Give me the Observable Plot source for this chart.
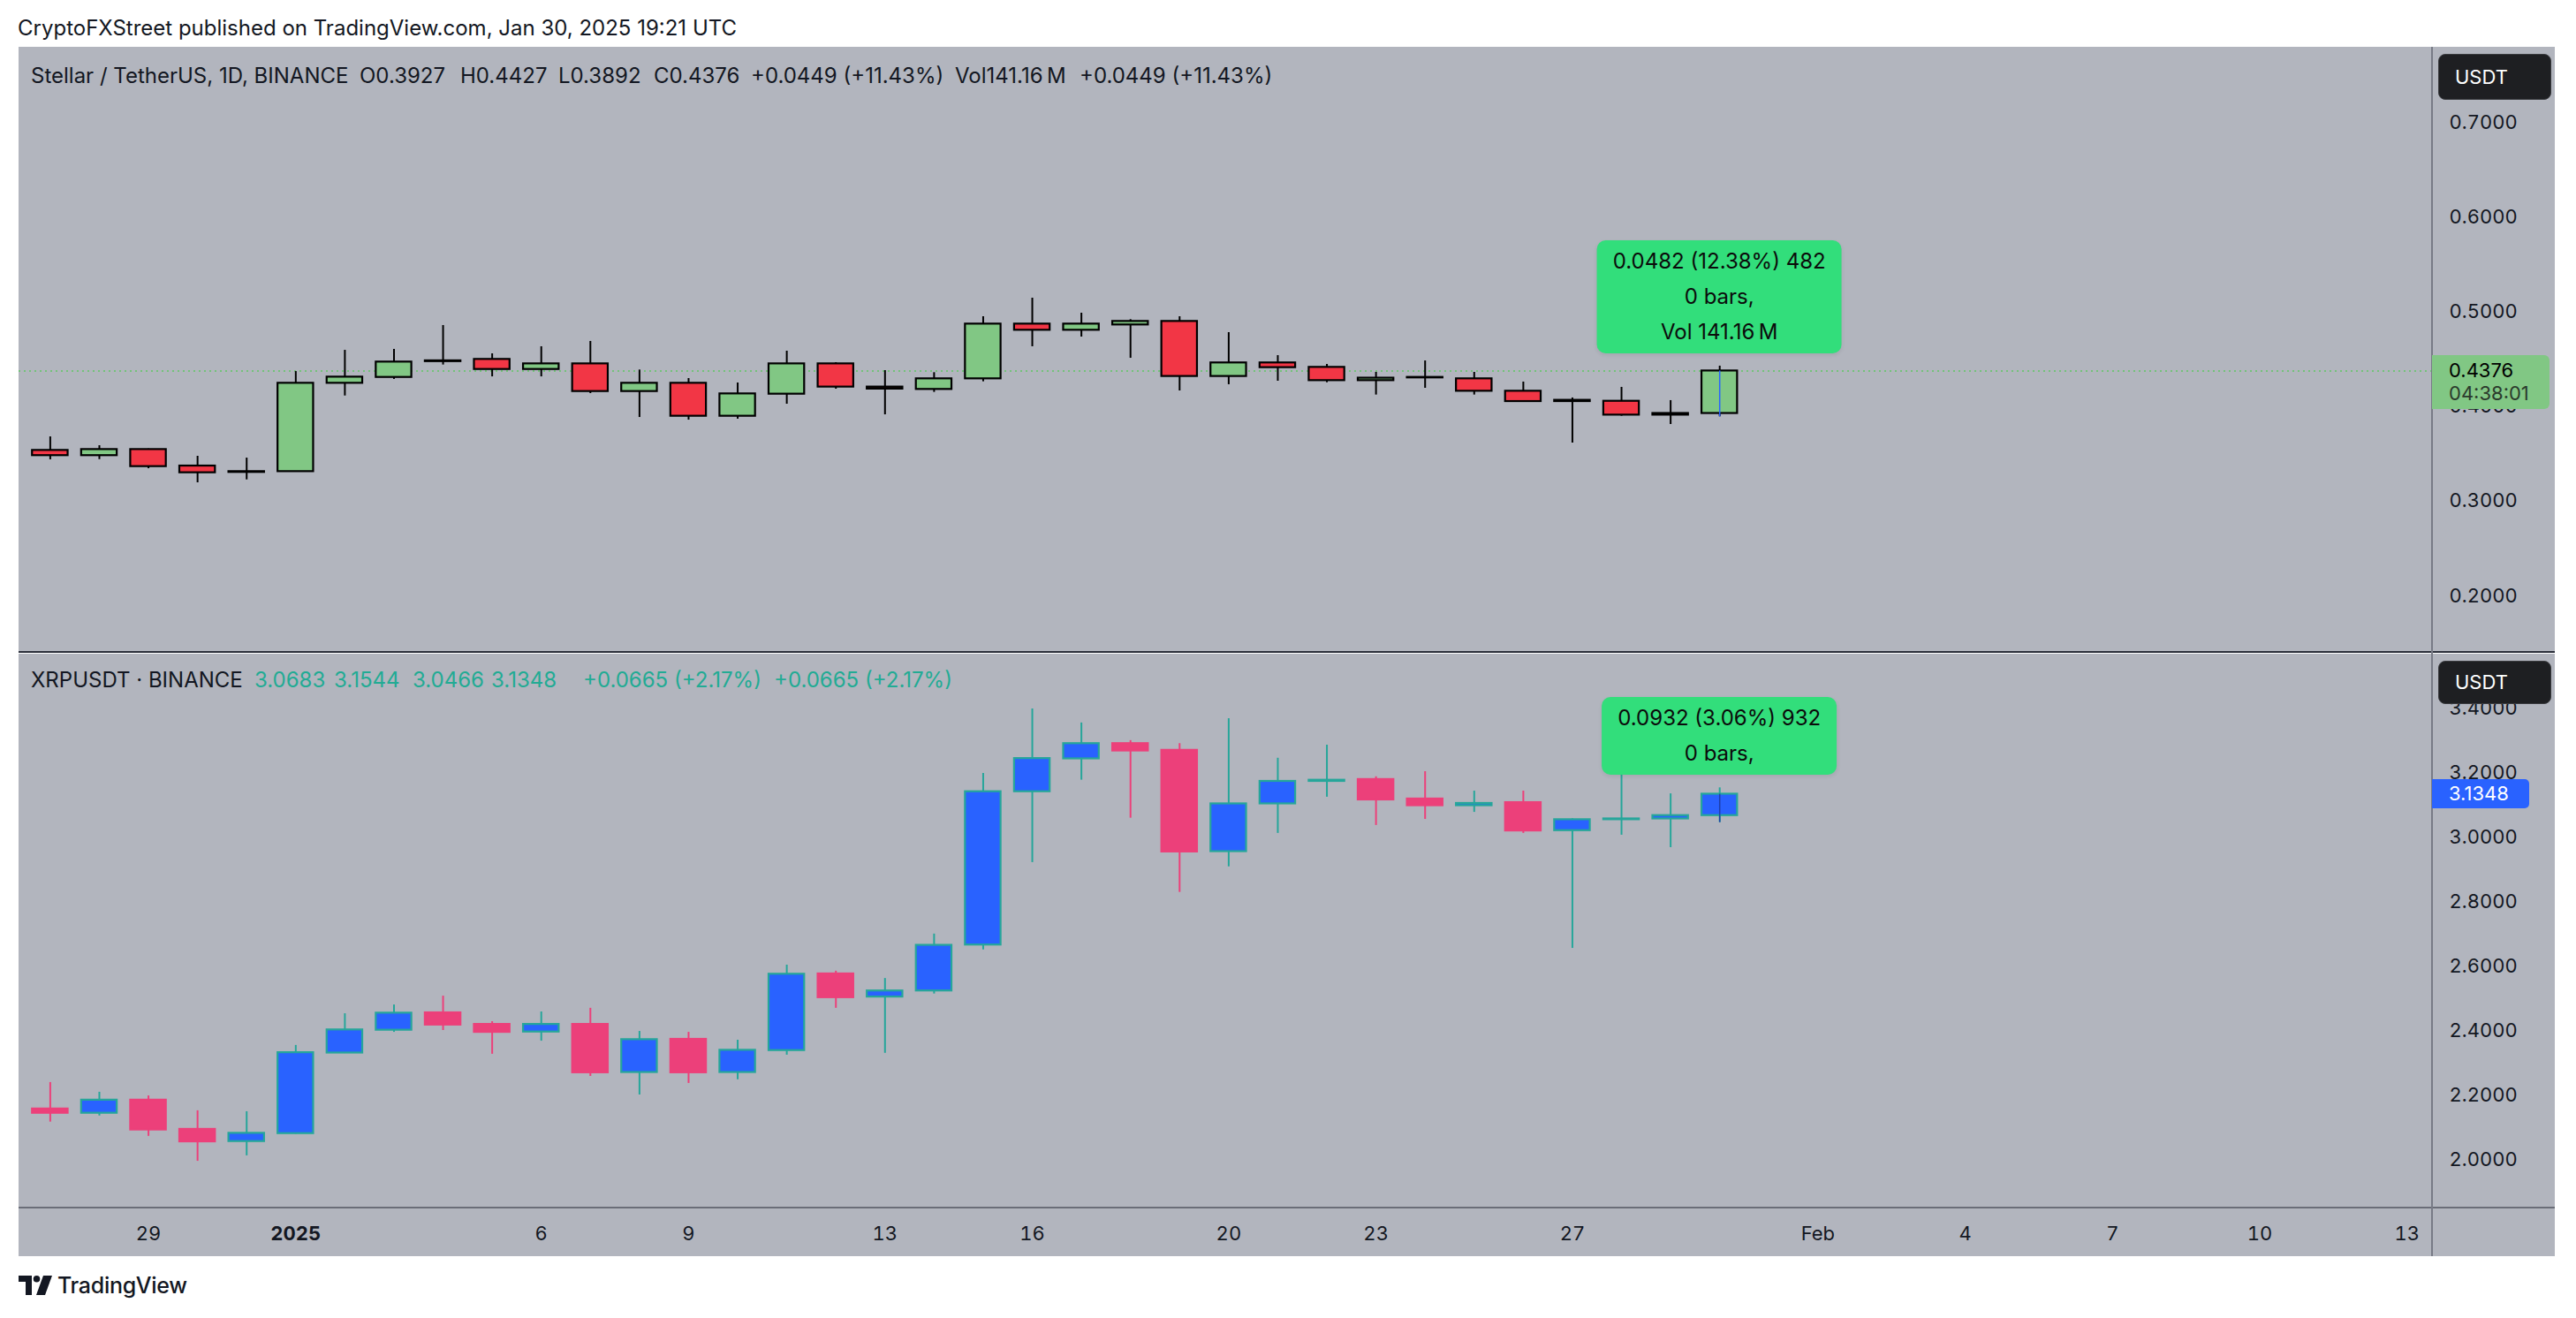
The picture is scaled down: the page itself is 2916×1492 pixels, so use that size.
<!DOCTYPE html>
<html>
<head>
<meta charset="utf-8">
<script src="https://cdn.jsdelivr.net/npm/d3@7"></script>
<script src="https://cdn.jsdelivr.net/npm/@observablehq/plot@0.6"></script>
<style>
  html, body { margin: 0; padding: 0; background: #ffffff; }
  body { font-family: Inter, "Noto Sans", sans-serif; }
  #root { position: relative; width: 2916px; height: 1492px; overflow: hidden; background: #ffffff; }
  .abs { position: absolute; white-space: nowrap; }
  .legend { position: absolute; height: 30px; line-height: 30px; font-size: 24px; color: #131722; white-space: nowrap; }
  .usdt { position: absolute; left: 2760px; width: 128px; background: #1e1f22; border: 1px solid #3a3b3f; box-sizing: border-box;
          border-radius: 8px; color: #ffffff; font-size: 22px; padding-left: 18px; }
  .measure { position: absolute; background: #32de7b; border-radius: 10px; color: #0b0b0b; font-size: 24px; text-align: center;
             padding: 4px 18px; box-shadow: 0 2px 4px rgba(0,0,0,0.08); transform: translate(-50%, -100%); }
  .measure div { height: 40px; line-height: 40px; }
</style>
</head>
<body>
<div id="root"></div>
<script>
// ---------------- DATA ----------------
const dates = [
  "2024-12-27","2024-12-28","2024-12-29","2024-12-30","2024-12-31",
  "2025-01-01","2025-01-02","2025-01-03","2025-01-04","2025-01-05",
  "2025-01-06","2025-01-07","2025-01-08","2025-01-09","2025-01-10",
  "2025-01-11","2025-01-12","2025-01-13","2025-01-14","2025-01-15",
  "2025-01-16","2025-01-17","2025-01-18","2025-01-19","2025-01-20",
  "2025-01-21","2025-01-22","2025-01-23","2025-01-24","2025-01-25",
  "2025-01-26","2025-01-27","2025-01-28","2025-01-29","2025-01-30"
];

// Stellar / TetherUS (XLMUSDT), daily
const xlmOpen  = [0.3537,0.3482,0.3546,0.3372,0.3305,0.3313,0.4246,0.4308,0.4475,0.4498,0.4392,0.4451,0.4159,0.4246,0.3898,0.4131,0.4451,0.4206,0.4181,0.4293,0.4871,0.4806,0.4862,0.4899,0.4318,0.4461,0.4414,0.4274,0.4303,0.4293,0.4162,0.4053,0.4056,0.3910,0.3927];
const xlmHigh  = [0.3680,0.3587,0.3552,0.3475,0.3456,0.4370,0.4594,0.4604,0.4856,0.4557,0.4632,0.4688,0.4386,0.4296,0.4249,0.4585,0.4464,0.4380,0.4358,0.4949,0.5145,0.4986,0.4918,0.4949,0.4781,0.4538,0.4445,0.4361,0.4482,0.4361,0.4259,0.4091,0.4203,0.4063,0.4427];
const xlmLow   = [0.3438,0.3440,0.3344,0.3195,0.3226,0.3310,0.4112,0.4287,0.4439,0.4314,0.4314,0.4137,0.3885,0.3857,0.3867,0.4025,0.4184,0.3913,0.4150,0.4262,0.4632,0.4734,0.4510,0.4165,0.4231,0.4268,0.4252,0.4122,0.4193,0.4122,0.4050,0.3615,0.3898,0.3811,0.3892];
const xlmClose = [0.3482,0.3546,0.3366,0.3301,0.3313,0.4246,0.4311,0.4470,0.4483,0.4392,0.4451,0.4159,0.4246,0.3898,0.4134,0.4451,0.4206,0.4185,0.4293,0.4871,0.4806,0.4871,0.4899,0.4318,0.4461,0.4411,0.4274,0.4300,0.4308,0.4162,0.4053,0.4066,0.3910,0.3927,0.4376];

// XRPUSDT, daily
const xrpOpen  = [2.1579,2.1447,2.1853,2.0947,2.0569,2.0815,2.3316,2.4024,2.4562,2.4203,2.3968,2.4203,2.2712,2.3740,2.2712,2.3392,2.5770,2.5053,2.5242,2.6667,3.1424,3.2444,3.2916,3.2708,2.9565,3.1047,3.1745,3.1802,3.1198,3.0990,3.1085,3.0216,3.0556,3.0580,3.0683];
const xrpHigh  = [2.2400,2.2098,2.1985,2.1523,2.1494,2.3552,2.4534,2.4807,2.5081,2.4288,2.4590,2.4704,2.3986,2.3958,2.3713,2.6044,2.5855,2.5629,2.7007,3.1991,3.3992,3.3558,3.3010,3.2916,3.3690,3.2463,3.2869,3.1887,3.2047,3.1443,3.1443,3.0584,3.2132,3.1358,3.1544];
const xrpLow   = [2.1173,2.1362,2.0730,1.9956,2.0126,2.0800,2.3300,2.3958,2.4015,2.3278,2.3684,2.2589,2.2014,2.2372,2.2486,2.3250,2.4704,2.3307,2.5147,2.6516,2.9225,3.1783,3.0603,2.8300,2.9093,3.0131,3.1254,3.0377,3.0565,3.0783,3.0131,2.6563,3.0075,2.9688,3.0466];
const xrpClose = [2.1447,2.1853,2.0928,2.0560,2.0824,2.3326,2.4033,2.4553,2.4184,2.3958,2.4203,2.2703,2.3731,2.2703,2.3401,2.5761,2.5034,2.5242,2.6658,3.1424,3.2453,3.2916,3.2689,2.9555,3.1047,3.1745,3.1780,3.1170,3.0990,3.1060,3.0207,3.0556,3.0580,3.0683,3.1348];

// Axis ticks
const xlmTicks = [0.2, 0.3, 0.4, 0.5, 0.6, 0.7];
const xrpTicks = [2.0, 2.2, 2.4, 2.6, 2.8, 3.0, 3.2, 3.4];
const dayTicks = ["2024-12-29","2025-01-06","2025-01-09","2025-01-13","2025-01-16","2025-01-20","2025-01-23","2025-01-27","2025-02-01","2025-02-04","2025-02-07","2025-02-10","2025-02-13"];
const yearTicks = ["2025-01-01"];

// Texts
const headerText = "CryptoFXStreet published on TradingView.com, Jan 30, 2025 19:21 UTC";
const xlmLegend = [
  ["Stellar / TetherUS, 1D, BINANCE", 35], ["O0.3927", 407], ["H0.4427", 521], ["L0.3892", 632],
  ["C0.4376", 740], ["+0.0449 (+11.43%)", 850], ["Vol141.16\u2009M", 1081], ["+0.0449 (+11.43%)", 1222]
];
const xrpLegendName = ["XRPUSDT \u00b7 BINANCE", 35];
const xrpLegendValues = [
  ["3.0683", 288], ["3.1544", 378], ["3.0466", 467], ["3.1348", 556],
  ["+0.0665 (+2.17%)", 660], ["+0.0665 (+2.17%)", 876]
];
const xlmMeasure = ["0.0482 (12.38%) 482", "0 bars,", "Vol 141.16\u2009M"];
const xrpMeasure = ["0.0932 (3.06%) 932", "0 bars,"];
const xlmCountdown = "04:38:01";

// ---------------- BUILD ----------------
const xlm = dates.map((d, i) => ({date: new Date(d), open: xlmOpen[i], high: xlmHigh[i], low: xlmLow[i], close: xlmClose[i]}));
const xrp = dates.map((d, i) => ({date: new Date(d), open: xrpOpen[i], high: xrpHigh[i], low: xrpLow[i], close: xrpClose[i]}));

const root = document.getElementById("root");
const W = 2871, LEFT = 21, TOP1 = 53, TOP2 = 740;
const xDomain = [new Date(Date.UTC(2024, 11, 26, 8, 43)), new Date(Date.UTC(2025, 1, 13, 12, 22))];
const halfBody = 8.7 * 3600 * 1000;
const bx1 = d => new Date(+d.date - halfBody);
const bx2 = d => new Date(+d.date + halfBody);
const up = d => d.close >= d.open;

const p1 = Plot.plot({
  width: W, height: 685,
  marginTop: 0, marginBottom: 0, marginLeft: 0, marginRight: 139,
  style: {background: "#b2b5be", fontFamily: "Inter, 'Noto Sans', sans-serif", overflow: "visible"},
  x: {type: "utc", domain: xDomain, axis: null},
  y: {domain: [0.1404, 0.7794]},
  marks: [
    Plot.axisY(xlmTicks, {anchor: "right", tickSize: 0, tickPadding: 19, tickFormat: d => d.toFixed(4), fontSize: 22, color: "#131722", label: null}),
    Plot.ruleY([xlmClose[xlmClose.length - 1]], {stroke: "#74c27a", strokeWidth: 2, strokeDasharray: "2,4"}),
    Plot.ruleX(xlm, {x: "date", y1: "low", y2: "high", stroke: "#000000", strokeWidth: 2}),
    Plot.rect(xlm, {x1: bx1, x2: bx2, y1: "open", y2: "close", fill: d => up(d) ? "#81c784" : "#f23645", stroke: "#000000", strokeWidth: 2.2}),
    Plot.ruleX(xlm.slice(-1), {x: "date", y1: "low", y2: "close", stroke: "#2962ff", strokeWidth: 1.5})
  ]
});
p1.style.position = "absolute"; p1.style.left = LEFT + "px"; p1.style.top = TOP1 + "px";
root.appendChild(p1);

const dayFmt = d => d.getUTCDate() === 1 ? d3.utcFormat("%b")(d) : d3.utcFormat("%-d")(d);
const p2 = Plot.plot({
  width: W, height: 682,
  marginTop: 0, marginBottom: 55, marginLeft: 0, marginRight: 139,
  style: {background: "#b2b5be", fontFamily: "Inter, 'Noto Sans', sans-serif", overflow: "visible"},
  x: {type: "utc", domain: xDomain},
  y: {domain: [1.8505, 3.5692]},
  marks: [
    Plot.axisY(xrpTicks, {anchor: "right", tickSize: 0, tickPadding: 19, tickFormat: d => d.toFixed(4), fontSize: 22, color: "#131722", label: null}),
    Plot.axisX(dayTicks.map(d => new Date(d)), {anchor: "bottom", tickSize: 0, tickPadding: 21, tickFormat: dayFmt, fontSize: 22, color: "#131722", label: null}),
    Plot.axisX(yearTicks.map(d => new Date(d)), {anchor: "bottom", tickSize: 0, tickPadding: 21, tickFormat: d3.utcFormat("%Y"), fontSize: 22, fontWeight: "bold", color: "#131722", label: null}),
    Plot.ruleX(xrp, {x: "date", y1: "low", y2: "high", stroke: d => up(d) ? "#26a69a" : "#ec407a", strokeWidth: 2}),
    Plot.rect(xrp, {x1: bx1, x2: bx2, y1: "open", y2: "close", fill: d => up(d) ? "#2962ff" : "#ec407a", stroke: d => up(d) ? "#26a69a" : "#ec407a", strokeWidth: 2.2}),
    Plot.ruleX(xrp.slice(-1), {x: "date", y1: "low", y2: "close", stroke: "#1d3fa8", strokeWidth: 1.5})
  ]
});
p2.style.position = "absolute"; p2.style.left = LEFT + "px"; p2.style.top = TOP2 + "px";
root.appendChild(p2);

// helpers
function el(tag, cls, css, text) {
  const e = document.createElement(tag);
  if (cls) e.className = cls;
  Object.assign(e.style, css || {});
  if (text != null) e.textContent = text;
  root.appendChild(e);
  return e;
}

// separators
el("div", null, {position: "absolute", left: LEFT + "px", top: "737px", width: W + "px", height: "2px", background: "#2a2e39"});
el("div", null, {position: "absolute", left: LEFT + "px", top: "1366px", width: W + "px", height: "2px", background: "#6a6d78"});
el("div", null, {position: "absolute", left: "2752px", top: TOP1 + "px", width: "2px", height: (1422 - TOP1) + "px", background: "#787b86"});

// header
el("div", "abs", {left: "20px", top: "17px", fontSize: "24px", lineHeight: "30px", color: "#131722"}, headerText);

// legends
xlmLegend.forEach(([t, x]) => el("div", "legend", {left: x + "px", top: "71px"}, t));
el("div", "legend", {left: xrpLegendName[1] + "px", top: "755px"}, xrpLegendName[0]);
xrpLegendValues.forEach(([t, x]) => el("div", "legend", {left: x + "px", top: "755px", color: "#22ab94"}, t));

// currency buttons
el("div", "usdt", {top: "61px", height: "52px", lineHeight: "50px"}, "USDT");
el("div", "usdt", {top: "748px", height: "49px", lineHeight: "47px"}, "USDT");

// last price labels (positioned with plot scales)
const x1s = p1.scale("x"), y1s = p1.scale("y");
const x2s = p2.scale("x"), y2s = p2.scale("y");
const lastX = xlm[xlm.length - 1], lastR = xrp[xrp.length - 1];

const yl1 = TOP1 + y1s.apply(lastX.close);
const lab1 = el("div", "abs", {left: "2753px", top: (yl1 - 17) + "px", width: "133px", height: "61px", background: "#81c784",
  borderRadius: "0 6px 6px 0", fontSize: "22px", color: "#000"});
const l1a = document.createElement("div"); l1a.textContent = lastX.close.toFixed(4);
Object.assign(l1a.style, {position: "absolute", left: "19px", top: "2px", lineHeight: "30px"});
const l1b = document.createElement("div"); l1b.textContent = xlmCountdown;
Object.assign(l1b.style, {position: "absolute", left: "19px", top: "28px", lineHeight: "30px", color: "#2b3a2c"});
lab1.appendChild(l1a); lab1.appendChild(l1b);

const yl2 = TOP2 + y2s.apply(lastR.close);
el("div", "abs", {left: "2753px", top: (yl2 - 16.5) + "px", width: "110px", height: "33px", background: "#2962ff",
  borderRadius: "0 5px 5px 0", fontSize: "22px", color: "#ffffff", lineHeight: "33px", paddingLeft: "19px", boxSizing: "border-box"},
  lastR.close.toFixed(4));

// measurement boxes
function measure(lines, cx, bottom) {
  const b = el("div", "measure", {left: cx + "px", top: bottom + "px"});
  lines.forEach(t => { const d = document.createElement("div"); d.textContent = t; b.appendChild(d); });
}
measure(xlmMeasure, LEFT + x1s.apply(lastX.date), TOP1 + y1s.apply(lastX.high) - 14);
measure(xrpMeasure, LEFT + x2s.apply(lastR.date), TOP2 + y2s.apply(lastR.high) - 14);

// TradingView logo
const logo = el("div", "abs", {left: "21px", top: "1440px", height: "30px", display: "flex", alignItems: "center", gap: "6px"});
logo.innerHTML = '<svg width="38" height="22" viewBox="0 0 38 22"><path d="M0 0H15V22H8V7H0Z" fill="#131722"/><circle cx="20.5" cy="3.8" r="3.8" fill="#131722"/><path d="M28 0H38L30 22H20Z" fill="#131722"/></svg>' +
  '<span style="font-size:25px;font-weight:500;color:#131722;letter-spacing:-0.3px">TradingView</span>';
</script>
</body>
</html>
